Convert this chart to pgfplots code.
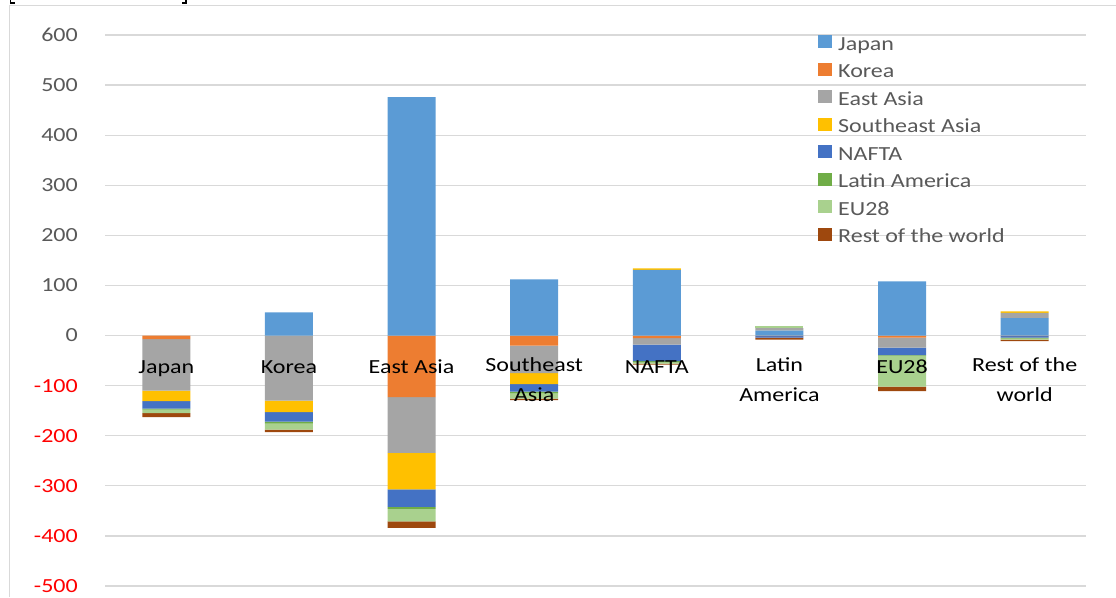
\documentclass[border=0pt]{standalone}
\usepackage{pgfplots}
\pgfplotsset{compat=1.18}
\usepackage{pgfplotstable}
\usepackage{fontspec}
\setmainfont{Carlito}[FakeStretch=1.2]

\definecolor{cJapan}{HTML}{5B9BD5}
\definecolor{cKorea}{HTML}{ED7D31}
\definecolor{cEastAsia}{HTML}{A5A5A5}
\definecolor{cSEAsia}{HTML}{FFC000}
\definecolor{cNAFTA}{HTML}{4472C4}
\definecolor{cLatAm}{HTML}{70AD47}
\definecolor{cEU}{HTML}{A9D18E}
\definecolor{cRoW}{HTML}{9E480E}
\definecolor{gridgray}{HTML}{D9D9D9}
\definecolor{labelgray}{HTML}{595959}

% Positive contributions, stacked upwards from zero
\pgfplotstableread{
x Japan Korea EastAsia SEAsia NAFTA LatAm EU28 RoW
0 0   0 0  0 0 0 0 0
1 46  0 0  0 0 0 0 0
2 476 0 0  0 0 0 0 0
3 112 0 0  0 0 0 0 0
4 131 0 0  3 0 0 0 0
5 10  0 5  0 0 0 5 0
6 108 0 0  0 0 0 0 0
7 35  0 10 3 0 0 0 0
}\postable

% Negative contributions, stacked downwards from zero
\pgfplotstableread{
x Japan Korea EastAsia SEAsia NAFTA LatAm EU28 RoW
0 0 -7   -103 -21 -15 -2 -7  -8
1 0 0    -130 -23 -19 -4 -12 -5
2 0 -123 -111 -73 -35 -4 -25 -13
3 0 -20  -55  -22 -15 -3 -11 -3
4 0 -5   -13  0   -33 -2 -3  -2
5 0 -1   0    0   -3  0  0   -4
6 0 -4   -20  0   -15 -1 -62 -9
7 0 -1   0    0   -3  -2 -2  -3
}\negtable

\newcommand\chartfont{\fontsize{20}{24}\selectfont}

\pgfplotsset{
  regionaxis/.style={
    scale only axis, width=981pt, height=551pt,
    at={(105pt,11pt)}, anchor=south west,
    xmin=-0.5, xmax=7.5, ymin=-500, ymax=600,
    ybar stacked, bar width=48pt,
    axis line style={draw=none},
    tick style={draw=none},
  },
  legimg/.style={legend image code/.code={\fill[##1] (0pt,-3pt) rectangle (14pt,10pt);}},
  seg/.style={fill=#1, draw=none, legimg},
}

\begin{document}
\begin{tikzpicture}
\useasboundingbox (0,0) rectangle (1116pt,597pt);

% chart area frame and the feet of the title brackets above it
\draw[gridgray, line width=1pt] (9.5pt,0pt) -- (9.5pt,591.5pt) -- (1116pt,591.5pt);
\draw[black, line width=1.3pt] (10.5pt,597pt) -- (10.5pt,594pt) -- (15pt,594pt);
\draw[black, line width=1.3pt] (186pt,597pt) -- (186pt,594pt) -- (181.5pt,594pt);

% Negative stacks, grid and value axis
\begin{axis}[regionaxis,
  ymajorgrids, grid style={gridgray, line width=1.2pt},
  ytick={-500,-400,...,600},
  yticklabels={\textcolor{red}{-500},\textcolor{red}{-400},\textcolor{red}{-300},
    \textcolor{red}{-200},\textcolor{red}{-100},0,100,200,300,400,500,600},
  yticklabel style={anchor=east, inner sep=0pt, xshift=-27pt, font=\chartfont, text=labelgray},
  xtick=\empty,
]
\addplot[seg=cJapan]    table[x=x, y=Japan]    {\negtable};
\addplot[seg=cKorea]    table[x=x, y=Korea]    {\negtable};
\addplot[seg=cEastAsia] table[x=x, y=EastAsia] {\negtable};
\addplot[seg=cSEAsia]   table[x=x, y=SEAsia]   {\negtable};
\addplot[seg=cNAFTA]    table[x=x, y=NAFTA]    {\negtable};
\addplot[seg=cLatAm]    table[x=x, y=LatAm]    {\negtable};
\addplot[seg=cEU]       table[x=x, y=EU28]     {\negtable};
\addplot[seg=cRoW]      table[x=x, y=RoW]      {\negtable};
\end{axis}

% Positive stacks, category labels on the zero line, legend
\begin{axis}[regionaxis,
  axis x line=middle, axis y line=none,
  hide obscured x ticks=false,
  xtick={0,...,7},
  xticklabels={Japan, Korea, East Asia, Southeast\\Asia, NAFTA, Latin\\America, EU28, Rest of the\\world},
  xticklabel style={align=center, anchor=north, inner sep=0pt, yshift=-20pt,
    execute at begin node={\rule{0pt}{16pt}},
    font=\fontsize{20}{29.5}\selectfont, text=black},
  legend style={at={(axis description cs:0.7268,0.9996)}, anchor=north west,
    draw=none, fill=none, inner sep=0pt, font=\chartfont, text=labelgray,
    row sep=8.5pt,
    nodes={inner sep=0pt, text height=14pt, text depth=4pt},
    /tikz/every odd column/.style={column sep=6pt}},
  legend cell align=left,
]
\addplot[seg=cJapan]    table[x=x, y=Japan]    {\postable};
\addplot[seg=cKorea]    table[x=x, y=Korea]    {\postable};
\addplot[seg=cEastAsia] table[x=x, y=EastAsia] {\postable};
\addplot[seg=cSEAsia]   table[x=x, y=SEAsia]   {\postable};
\addplot[seg=cNAFTA]    table[x=x, y=NAFTA]    {\postable};
\addplot[seg=cLatAm]    table[x=x, y=LatAm]    {\postable};
\addplot[seg=cEU]       table[x=x, y=EU28]     {\postable};
\addplot[seg=cRoW]      table[x=x, y=RoW]      {\postable};
\legend{Japan, Korea, East Asia, Southeast Asia, NAFTA, Latin America, EU28, Rest of the world}
\end{axis}
\end{tikzpicture}
\end{document}
